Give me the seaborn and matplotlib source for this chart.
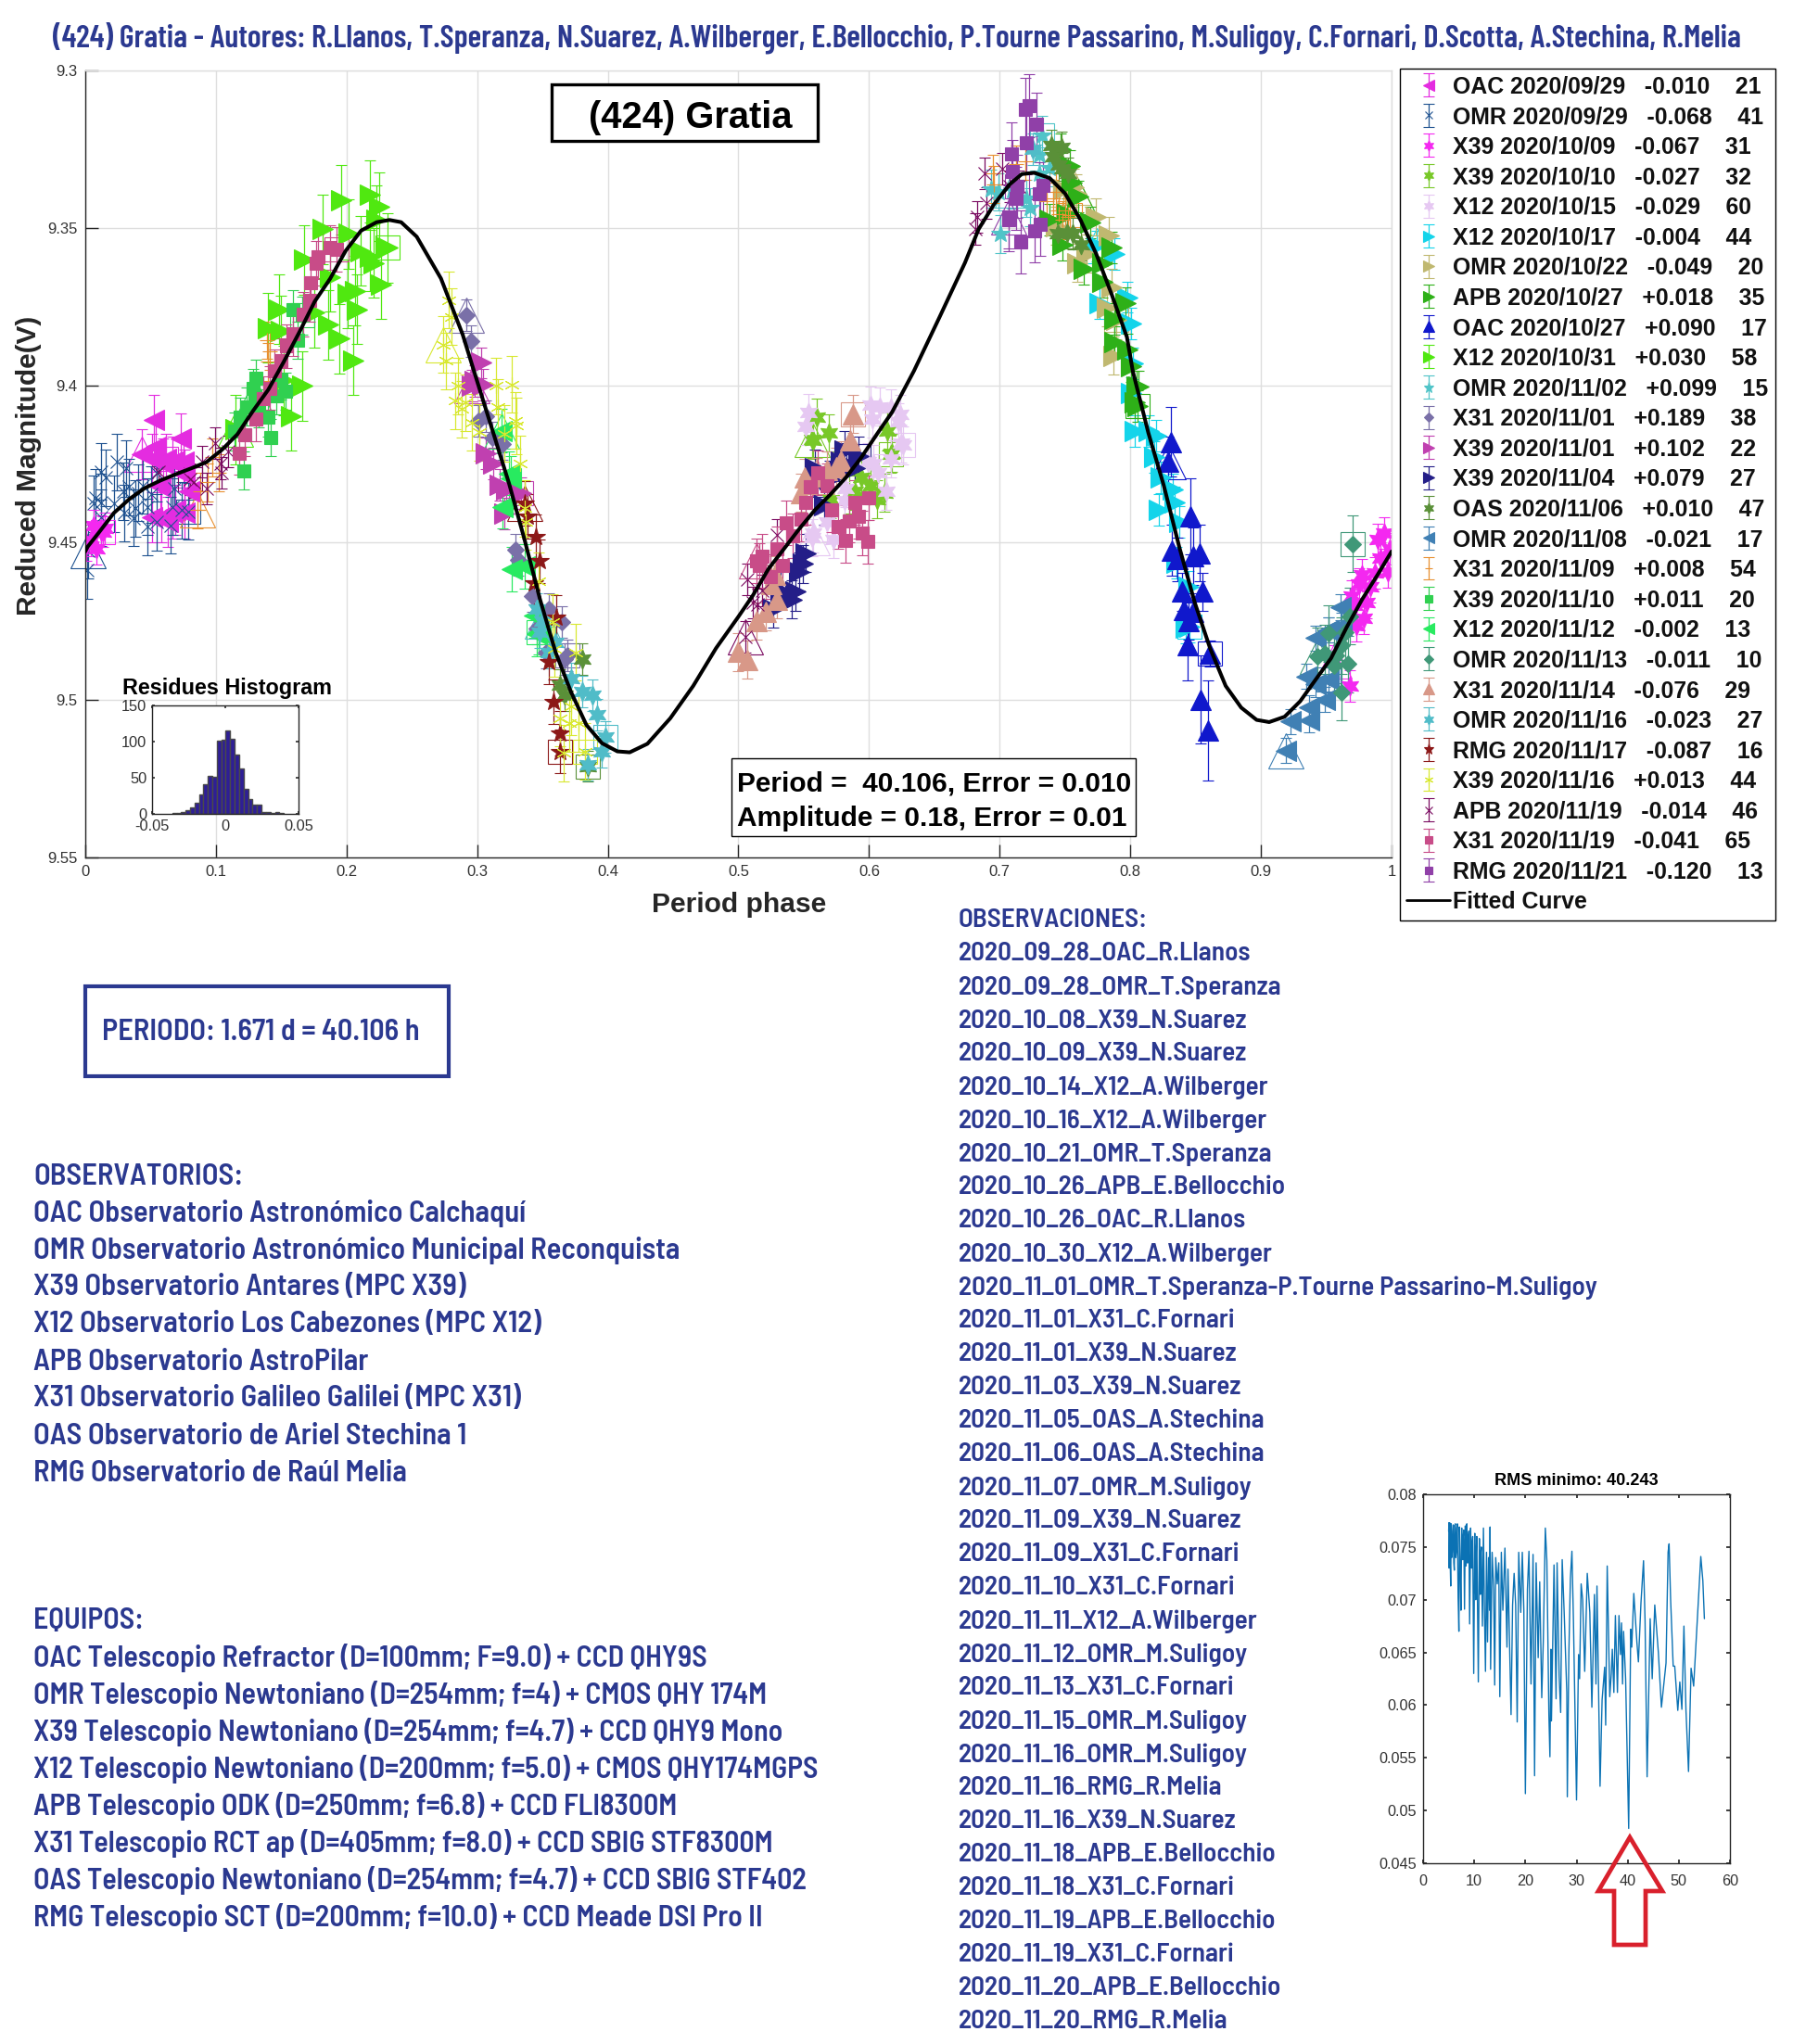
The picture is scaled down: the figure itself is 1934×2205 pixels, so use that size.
import numpy as np
import seaborn as sns
import matplotlib.pyplot as plt
from matplotlib.patches import Rectangle, Polygon
from matplotlib.lines import Line2D

W, H = 1934, 2205
BLUE = '#2b3990'

# session labels
labels = ['OAC 2020/09/29   -0.010    21', 'OMR 2020/09/29   -0.068    41', 'X39 2020/10/09   -0.067    31',
          'X39 2020/10/10   -0.027    32', 'X12 2020/10/15   -0.029    60', 'X12 2020/10/17   -0.004    44',
          'OMR 2020/10/22   -0.049    20', 'APB 2020/10/27   +0.018    35', 'OAC 2020/10/27   +0.090    17',
          'X12 2020/10/31   +0.030    58', 'OMR 2020/11/02   +0.099    15', 'X31 2020/11/01   +0.189    38',
          'X39 2020/11/01   +0.102    22', 'X39 2020/11/04   +0.079    27', 'OAS 2020/11/06   +0.010    47',
          'OMR 2020/11/08   -0.021    17', 'X31 2020/11/09   +0.008    54', 'X39 2020/11/10   +0.011    20',
          'X12 2020/11/12   -0.002    13', 'OMR 2020/11/13   -0.011    10', 'X31 2020/11/14   -0.076    29',
          'OMR 2020/11/16   -0.023    27', 'RMG 2020/11/17   -0.087    16', 'X39 2020/11/16   +0.013    44',
          'APB 2020/11/19   -0.014    46', 'X31 2020/11/19   -0.041    65', 'RMG 2020/11/21   -0.120    13']

# phase / reduced magnitude per session (first point gets the open square, last the open triangle)
p01 = [.0620, .0525, .0734, .0537, .0750, .0510, .0596, .0667, .0762, .0573, .0798, .0510, .0585, .0667, .0762, .0632, .0691, .0430]
m01 = [9.4235, 9.4110, 9.4169, 9.4195, 9.4244, 9.4234, 9.4249, 9.4244, 9.4283, 9.4323, 9.4337, 9.4420, 9.4420, 9.4406, 9.4406, 9.4435, 9.4396, 9.4220]
p02 = [.0786, .0118, .0241, .0312, .0159, .0064, .0123, .0218, .0289, .0336, .0443, .0407, .0502, .0301, .0383, .0372, .0478, .0478, .0549, .0656, .0679, .0738, .0076, .0123, .0017, .0549, .0667, .0024]
m02 = [9.4401, 9.4274, 9.4244, 9.4264, 9.4293, 9.4376, 9.4372, 9.4376, 9.4337, 9.4323, 9.4318, 9.4342, 9.4347, 9.4406, 9.4391, 9.4421, 9.4386, 9.4450, 9.4435, 9.4445, 9.4327, 9.4396, 9.4357, 9.4420, 9.4587, 9.4278, 9.4386, 9.4524]
p03 = [.0135, .0064, .0123, .0040, .0088, .0010, .0147, .9893, .9945, .9988, .9917, .9971, .9869, .9775, .9751, .9834, .9692, .9810, .9715, .9786, .9727, .9680, .9561]
m03 = [9.4465, 9.4445, 9.4464, 9.4494, 9.4519, 9.4509, 9.4455, 9.4489, 9.4470, 9.4519, 9.4548, 9.4592, 9.4597, 9.4602, 9.4631, 9.4641, 9.4671, 9.4690, 9.4700, 9.4739, 9.4764, 9.4955, 9.4876]
p04 = [.6170, .5598, .5693, .5574, .5941, .6142, .6177, .5894, .6118, .6059, .5846, .6012, .5704, .5563]
m04 = [9.4218, 9.4102, 9.4151, 9.4175, 9.4293, 9.4146, 9.4215, 9.4337, 9.4342, 9.4362, 9.4347, 9.4318, 9.4362, 9.4171]
p05 = [.6260, .5539, .6012, .6083, .6165, .6236, .6024, .6225, .6248, .6165, .6035, .6070, .6130, .5988, .5574, .5728, .5680, .5515, .5823, .5811, .5563]
m05 = [9.4190, 9.4087, 9.4063, 9.4068, 9.4073, 9.4092, 9.4107, 9.4117, 9.4185, 9.4234, 9.4249, 9.4278, 9.4337, 9.4244, 9.4470, 9.4489, 9.4435, 9.4131, 9.4327, 9.4367, 9.4484]
p06 = [.8453, .7879, .7974, .7761, .8009, .8021, .8009, .8031, .8138, .8197, .8185, .8232, .8327, .8221, .8339, .8375, .8351, .8446, .8422, .7742]
m06 = [9.4767, 9.3582, 9.3720, 9.3739, 9.3803, 9.3930, 9.4024, 9.4146, 9.4146, 9.4161, 9.4229, 9.4293, 9.4332, 9.4396, 9.4372, 9.4435, 9.4563, 9.4641, 9.4769, 9.3558]
p07 = [.7891, .7584, .7832, .7596, .7667, .7856, .7820, .7868, .7490, .7738, .7430, .7567]
m07 = [9.3793, 9.3391, 9.3524, 9.3612, 9.3582, 9.3690, 9.3754, 9.3906, 9.3376, 9.3465, 9.3494, 9.3372]
p08 = [.8055, .7537, .7466, .7548, .7383, .7478, .7643, .7785, .7856, .7690, .7785, .7962, .7879, .7879, .7974, .8009, .8045, .7513, .8031, .8066, .7600]
m08 = [9.4065, 9.3303, 9.3249, 9.3357, 9.3475, 9.3553, 9.3631, 9.3612, 9.3563, 9.3484, 9.3671, 9.3739, 9.3788, 9.3862, 9.3886, 9.3940, 9.4004, 9.3455, 9.4053, 9.4004, 9.3400]
p09 = [.8607, .8311, .8458, .8320, .8529, .8482, .8363, .8553, .8394, .8410, .8482, .8446, .8439, .8541, .8595, .8292]
m09 = [9.4852, 9.4180, 9.4416, 9.4524, 9.4533, 9.4543, 9.4553, 9.4656, 9.4656, 9.4715, 9.4720, 9.4749, 9.4827, 9.4999, 9.5097, 9.4244]
e09 = [.004, .011, .012, .008, .009, .009, .007, .006, .006, .006, .006, .006, .011, .014, .016, .008]
p10 = [.2312, .1957, .2182, .2253, .2230, .1816, .2016, .2111, .2182, .2206, .1673, .1875, .2265, .2063, .2005, .2076, .1484, .1863, .1401, .1946, .2052, .1662, .1579, .1756, .1495, .1520, .1153]
m10 = [9.3563, 9.3411, 9.3396, 9.3433, 9.3475, 9.3504, 9.3519, 9.3573, 9.3592, 9.3612, 9.3602, 9.3656, 9.3680, 9.3700, 9.3710, 9.3759, 9.3759, 9.3808, 9.3818, 9.3852, 9.3921, 9.4002, 9.4097, 9.3769, 9.3827, 9.3984, 9.4141]
p11 = [.7324, .7300, .7383, .7005, .6993, .7229, .7206, .7300, .6934, .7100]
m11 = [9.3205, 9.3269, 9.3308, 9.3519, 9.3386, 9.3435, 9.3406, 9.3327, 9.3376, 9.3380]
p12 = [.3694, .2955, .3007, .3114, .3197, .3291, .3315, .3422, .3552, .3647, .3457, .3528, .3671, .3066, .2919]
m12 = [9.4858, 9.3860, 9.4112, 9.4165, 9.4186, 9.4522, 9.4554, 9.4669, 9.4711, 9.4753, 9.4774, 9.4848, 9.4869, 9.4097, 9.3778]
p13 = [.3339, .3031, .3043, .2983, .3066, .3126, .3173, .3220, .3209, .2960]
m13 = [9.4343, 9.3929, 9.3997, 9.3986, 9.4217, 9.4249, 9.4317, 9.4330, 9.4407, 9.4002]
p14 = [.5917, .5515, .5492, .5468, .5433, .5409, .5326, .5267, .5894, .5811, .5787, .5586, .5657, .5700]
m14 = [9.4224, 9.4533, 9.4568, 9.4592, 9.4656, 9.4680, 9.4651, 9.4710, 9.4264, 9.4206, 9.4244, 9.4264, 9.4382, 9.4300]
p15 = [.3848, .7395, .7473, .7407, .7478, .7525, .7513, .7560, .7619, .7442, .3801, .3635, .3671, .7450]
m15 = [9.5210, 9.3239, 9.3244, 9.3273, 9.3313, 9.3327, 9.3514, 9.3519, 9.3553, 9.3519, 9.4869, 9.4953, 9.4984, 9.3300]
p16 = [.9514, .9224, .9367, .9371, .9490, .9347, .9419, .9514, .9419, .9514, .9609, .9620, .9193]
m16 = [9.4935, 9.5068, 9.5063, 9.5024, 9.4999, 9.4925, 9.4950, 9.4778, 9.4803, 9.4778, 9.4705, 9.4764, 9.5161]
p17 = [.7537, .1413, .1389, .1401, .1022, .0940, .0880, .0975, .6946, .6957, .7123, .7194, .7407, .7430, .7478, .7501, .7525, .7454, .7359, .0857]
m17 = [9.3460, 9.3891, 9.3857, 9.3925, 9.4278, 9.4308, 9.4337, 9.4229, 9.3327, 9.3362, 9.3298, 9.3288, 9.3406, 9.3386, 9.3475, 9.3445, 9.3465, 9.3455, 9.3416, 9.4395]
p18 = [.1662, .1591, .1626, .1306, .1283, .1531, .1496, .1188, .1401, .1235, .1141, .1418, .1212, .1460, .1330, .1302]
m18 = [9.3778, 9.3759, 9.3857, 9.3979, 9.4009, 9.4019, 9.3984, 9.4100, 9.4102, 9.4068, 9.4146, 9.4166, 9.4271, 9.4033, 9.4073, 9.4033]
p19 = [.3470, .3244, .3197, .3256, .3268, .3434, .3457, .3363, .3185]
m19 = [9.4785, 9.4280, 9.4386, 9.4296, 9.4585, 9.4732, 9.4790, 9.4575, 9.4144]
p20 = [.9699, .9680, .9514, .9644, .9490, .9668, .9561, .9620, .9573, .9620, .9430]
m20 = [9.4504, 9.4734, 9.4788, 9.4783, 9.4852, 9.4886, 9.4891, 9.4975, 9.4857, 9.4827, 9.4860]
p21 = [.5877, .5858, .5787, .5504, .5480, .5681, .5752, .5255, .5291, .5208, .5137, .4995, .5066, .5279, .5600]
m21 = [9.4092, 9.4175, 9.4239, 9.4293, 9.4342, 9.4269, 9.4259, 9.4631, 9.4680, 9.4720, 9.4749, 9.4847, 9.4872, 9.4602, 9.4290]
p22 = [.3979, .3457, .3481, .3552, .3718, .3884, .3801, .3919, .3955, .3848, .3600, .7250, .3500]
m22 = [9.5116, 9.4711, 9.4785, 9.4848, 9.4932, 9.4984, 9.4974, 9.5047, 9.5163, 9.5205, 9.4816, 9.3250, 9.4750]
p23 = [.3635, .3386, .3448, .3481, .3434, .3607, .3552, .3583, .3635, .3363]
m23 = [9.5163, 9.4417, 9.4480, 9.4559, 9.4627, 9.4737, 9.4879, 9.5005, 9.5105, 9.4375]
p24 = [.3825, .2782, .2806, .2758, .2853, .2829, .2912, .2884, .2960, .3019, .3145, .3161, .3268, .3292, .3303, .3209, .3327, .3363, .3374, .3469, .3576, .3588, .3754, .3718, .3635, .3706, .3777, .3659, .2742]
m24 = [9.5163, 9.3729, 9.3782, 9.3923, 9.4002, 9.4049, 9.4055, 9.4076, 9.4118, 9.4149, 9.4002, 9.4070, 9.3997, 9.4112, 9.4128, 9.4154, 9.4249, 9.4391, 9.4433, 9.4622, 9.4753, 9.4837, 9.4848, 9.5021, 9.5058, 9.5074, 9.5074, 9.5168, 9.3871]
p25 = [.0800, .0992, .1093, .0892, .1034, .1046, .0928, .0833, .0561, .5291, .5066, .5184, .5113, .5149, .6887, .7017, .6899, .6827, .6816, .7076, .7147, .5054]
m25 = [9.4300, 9.4185, 9.4210, 9.4244, 9.4249, 9.4278, 9.4327, 9.4308, 9.4274, 9.4475, 9.4617, 9.4651, 9.4690, 9.4695, 9.3327, 9.3313, 9.3421, 9.3465, 9.3504, 9.3367, 9.3367, 9.4800]
p26 = [.1922, .1874, .1784, .1768, .1725, .1720, .1666, .1591, .1543, .1496, .1448, .1413, .1366, .1306, .1224, .1176, .5362, .5480, .5416, .5291, .5184, .5160, .5338, .5243, .5610, .5551, .5681, .5515, .5716, .6000, .5894, .5917, .5846, .5764, .5823, .5946, .5988, .5137]
m26 = [9.3568, 9.3563, 9.3592, 9.3612, 9.3675, 9.3729, 9.3774, 9.3837, 9.3876, 9.3921, 9.3955, 9.4009, 9.4043, 9.4107, 9.4156, 9.4215, 9.4437, 9.4425, 9.4479, 9.4519, 9.4543, 9.4572, 9.4572, 9.4607, 9.4278, 9.4323, 9.4318, 9.4372, 9.4396, 9.4357, 9.4372, 9.4416, 9.4430, 9.4450, 9.4494, 9.4470, 9.4497, 9.4558]
p27 = [.7130, .7225, .7194, .7284, .7206, .7087, .7099, .7331, .7300, .7123, .7071, .7312, .7265, .7158, .7071]
m27 = [9.3367, 9.3112, 9.3124, 9.3171, 9.3231, 9.3264, 9.3322, 9.3364, 9.3391, 9.3406, 9.3475, 9.3489, 9.3509, 9.3545, 9.3465]

phases = [p01, p02, p03, p04, p05, p06, p07, p08, p09, p10, p11, p12, p13, p14, p15, p16, p17, p18, p19, p20, p21, p22, p23, p24, p25, p26, p27]
mags = [m01, m02, m03, m04, m05, m06, m07, m08, m09, m10, m11, m12, m13, m14, m15, m16, m17, m18, m19, m20, m21, m22, m23, m24, m25, m26, m27]
errs = [.008, .009, .005, .006, .006, .005, .006, .005, e09, .011, .006, .005, .005, .006, .005, .004, .006, .006, .007, .009, .006, .005, .007, .009, .005, .007, .010]

fit_phase = [.0000, .0018, .0100, .0218, .0336, .0454, .0573, .0691, .0810, .0928, .1046, .1164, .1283, .1401, .1520, .1638, .1756, .1875, .1993, .2111, .2230, .2329, .2418, .2537, .2723, .2889, .3007, .3126, .3244, .3363, .3481, .3600, .3718, .3836, .3955, .4073, .4168, .4303, .4478, .4654, .4829, .5000, .5113, .5232, .5350, .5468, .5586, .5704, .5823, .5941, .6059, .6177, .6343, .6538, .6733, .6839, .6957, .7076, .7170, .7265, .7383, .7501, .7619, .7738, .7856, .7974, .8019, .8138, .8256, .8375, .8493, .8612, .8730, .8849, .8967, .9063, .9181, .9300, .9419, .9537, .9656, .9775, .9893, 1.0000]
fit_mag = [9.4528, 9.4513, 9.4470, 9.4406, 9.4362, 9.4327, 9.4303, 9.4283, 9.4264, 9.4244, 9.4205, 9.4156, 9.4082, 9.4014, 9.3925, 9.3832, 9.3734, 9.3661, 9.3573, 9.3509, 9.3482, 9.3475, 9.3482, 9.3528, 9.3661, 9.3839, 9.3997, 9.4155, 9.4312, 9.4491, 9.4680, 9.4848, 9.4974, 9.5079, 9.5137, 9.5163, 9.5166, 9.5139, 9.5058, 9.4955, 9.4835, 9.4735, 9.4666, 9.4582, 9.4519, 9.4455, 9.4396, 9.4347, 9.4293, 9.4229, 9.4156, 9.4085, 9.3955, 9.3785, 9.3612, 9.3504, 9.3425, 9.3362, 9.3329, 9.3325, 9.3342, 9.3391, 9.3475, 9.3582, 9.3710, 9.3847, 9.3955, 9.4151, 9.4318, 9.4514, 9.4690, 9.4837, 9.4955, 9.5024, 9.5063, 9.5070, 9.5053, 9.5004, 9.4935, 9.4867, 9.4769, 9.4680, 9.4602, 9.4528]

hist_left = [-.0363, -.0332, -.0302, -.0271, -.0241, -.0210, -.0180, -.0149, -.0119, -.0088, -.0058, -.0027, .0003, .0034, .0064, .0095, .0125, .0156, .0186, .0217, .0247, .0278, .0308, .0339, .0369, .0400]
hist_count = [1, 1, 3, 5, 9, 15, 27, 41, 53, 51, 101, 102, 115, 104, 82, 63, 35, 21, 13, 13, 3, 3, 1, 2, 1]

rms_period = [5.0, 5.05, 5.1, 5.2, 5.3, 5.4, 5.5, 5.6, 5.7, 5.8, 5.9, 6.0, 6.1, 6.2, 6.3, 6.4, 6.5, 6.6, 6.7, 6.85, 7.0, 7.1, 7.25, 7.4, 7.55, 7.65, 7.75, 7.85, 7.95, 8.1, 8.25, 8.4, 8.55, 8.65, 8.75, 8.85, 8.95, 9.1, 9.3, 9.4, 9.5, 9.6, 9.7, 9.9, 10.1, 10.2, 10.3, 10.4, 10.5, 10.8, 11.0, 11.1, 11.2, 11.3, 11.4, 11.6, 11.8, 12.0, 12.2, 12.4, 12.6, 12.8, 13.0, 13.1, 13.2, 13.5, 13.8, 14.0, 14.2, 14.5, 14.8, 15.0, 15.3, 15.6, 15.8, 16.0, 16.4, 16.6, 17.2, 17.5, 17.8, 18.1, 18.4, 18.7, 19.1, 19.4, 19.7, 20.0, 20.4, 20.7, 21.1, 21.5, 21.8, 22.1, 22.5, 22.8, 23.2, 23.5, 23.9, 24.2, 24.6, 24.8, 25.0, 25.1, 25.6, 26.0, 26.2, 26.6, 26.9, 27.2, 27.6, 28.1, 28.2, 28.5, 28.8, 29.1, 29.4, 30.0, 30.4, 30.6, 30.9, 31.2, 31.6, 32.1, 32.6, 33.0, 33.5, 33.8, 34.0, 34.6, 35.0, 35.5, 35.7, 36.0, 36.5, 36.8, 37.0, 37.3, 37.6, 38.0, 38.3, 38.6, 38.8, 39.0, 39.2, 39.6, 40.2, 40.6, 40.8, 41.2, 41.8, 42.1, 42.6, 43.1, 43.4, 43.8, 44.4, 44.8, 45.3, 46.0, 46.6, 47.5, 47.9, 48.1, 48.4, 48.9, 49.2, 49.8, 50.2, 50.6, 51.0, 51.4, 51.9, 52.4, 52.9, 53.6, 54.3, 54.7, 55.0]
rms_value = [.0765, .0773, .0730, .0773, .0735, .0713, .0772, .0740, .0745, .0765, .0771, .0735, .0728, .0770, .0772, .0740, .0745, .0768, .0772, .0702, .0670, .0769, .0735, .0690, .0768, .0740, .0738, .0760, .0766, .0691, .0770, .0732, .0772, .0735, .0735, .0760, .0765, .0677, .0768, .0735, .0730, .0755, .0760, .0630, .0763, .0720, .0700, .0745, .0760, .0622, .0758, .0720, .0705, .0745, .0750, .0675, .0768, .0690, .0632, .0745, .0660, .0740, .0690, .0769, .0634, .0745, .0710, .0619, .0740, .0715, .0735, .0608, .0745, .0690, .0720, .0749, .0655, .0729, .0591, .0695, .0725, .0695, .0584, .0745, .0688, .0745, .0690, .0516, .0710, .0746, .0620, .0743, .0533, .0735, .0645, .0717, .0607, .0660, .0768, .0737, .0590, .0551, .0653, .0585, .0733, .0606, .0735, .0628, .0593, .0738, .0686, .0612, .0513, .0648, .0720, .0746, .0680, .0510, .0648, .0625, .0715, .0700, .0632, .0725, .0688, .0598, .0705, .0620, .0713, .0523, .0605, .0636, .0581, .0732, .0608, .0630, .0653, .0612, .0685, .0612, .0685, .0648, .0678, .0620, .0670, .0625, .0483, .0672, .0655, .0706, .0660, .0641, .0697, .0737, .0680, .0532, .0682, .0625, .0695, .0650, .0598, .0640, .0745, .0753, .0700, .0637, .0637, .0595, .0622, .0596, .0675, .0595, .0537, .0635, .0618, .0680, .0741, .0718, .0682]

title_text = '(424) Gratia - Autores: R.Llanos, T.Speranza, N.Suarez, A.Wilberger, E.Bellocchio, P.Tourne Passarino, M.Suligoy, C.Fornari, D.Scotta, A.Stechina, R.Melia'
observatorios = ['OBSERVATORIOS:', 'OAC Observatorio Astronómico Calchaquí', 'OMR Observatorio Astronómico Municipal Reconquista',
                 'X39 Observatorio Antares (MPC X39)', 'X12 Observatorio Los Cabezones (MPC X12)', 'APB Observatorio AstroPilar',
                 'X31 Observatorio Galileo Galilei (MPC X31)', 'OAS Observatorio de Ariel Stechina 1', 'RMG Observatorio de Raúl Melia']
equipos = ['EQUIPOS:', 'OAC Telescopio Refractor (D=100mm; F=9.0) + CCD QHY9S', 'OMR Telescopio Newtoniano (D=254mm; f=4) + CMOS QHY 174M',
           'X39 Telescopio Newtoniano (D=254mm; f=4.7) + CCD QHY9 Mono', 'X12 Telescopio Newtoniano (D=200mm; f=5.0) + CMOS QHY174MGPS',
           'APB Telescopio ODK (D=250mm; f=6.8) + CCD FLI8300M', 'X31 Telescopio RCT ap (D=405mm; f=8.0) + CCD SBIG STF8300M',
           'OAS Telescopio Newtoniano (D=254mm; f=4.7) + CCD SBIG STF402', 'RMG Telescopio SCT (D=200mm; f=10.0) + CCD Meade DSI Pro II']
observaciones = ['OBSERVACIONES:', '2020_09_28_OAC_R.Llanos', '2020_09_28_OMR_T.Speranza', '2020_10_08_X39_N.Suarez', '2020_10_09_X39_N.Suarez',
                 '2020_10_14_X12_A.Wilberger', '2020_10_16_X12_A.Wilberger', '2020_10_21_OMR_T.Speranza', '2020_10_26_APB_E.Bellocchio',
                 '2020_10_26_OAC_R.Llanos', '2020_10_30_X12_A.Wilberger', '2020_11_01_OMR_T.Speranza-P.Tourne Passarino-M.Suligoy',
                 '2020_11_01_X31_C.Fornari', '2020_11_01_X39_N.Suarez', '2020_11_03_X39_N.Suarez', '2020_11_05_OAS_A.Stechina',
                 '2020_11_06_OAS_A.Stechina', '2020_11_07_OMR_M.Suligoy', '2020_11_09_X39_N.Suarez', '2020_11_09_X31_C.Fornari',
                 '2020_11_10_X31_C.Fornari', '2020_11_11_X12_A.Wilberger', '2020_11_12_OMR_M.Suligoy', '2020_11_13_X31_C.Fornari',
                 '2020_11_15_OMR_M.Suligoy', '2020_11_16_OMR_M.Suligoy', '2020_11_16_RMG_R.Melia', '2020_11_16_X39_N.Suarez',
                 '2020_11_18_APB_E.Bellocchio', '2020_11_18_X31_C.Fornari', '2020_11_19_APB_E.Bellocchio', '2020_11_19_X31_C.Fornari',
                 '2020_11_20_APB_E.Bellocchio', '2020_11_20_RMG_R.Melia']

# styles, same order as labels
hexa = (6, 1, 0)
aster = (6, 2, 0)
colors = ['#e42ce0', '#1f5290', '#f428f0', '#78c828', '#e6c8f2', '#14d4ea', '#c0b870', '#2eb018', '#1018cc',
          '#50e810', '#50c4c8', '#7a70a8', '#c040b0', '#241e88', '#5a9038', '#4080b4', '#e89030', '#30d050',
          '#28ea60', '#409878', '#d89888', '#50bcc8', '#8c1818', '#d8e830', '#7a0a60', '#c84c88', '#9040a8']
markers = ['<', 'x', hexa, hexa, hexa, '>', '>', '>', '^', '>', '*', 'D', '>', '>', hexa, '<', '+', 's',
           '<', 'D', '^', hexa, '*', aster, 'x', 's', 's']
sizes = {'<': 15.5, '>': 15.5, '^': 15.5, 's': 10.5, 'D': 9.5, '*': 15, 'x': 10, '+': 11, hexa: 15, aster: 12}

sns.set_theme(style='whitegrid')
ARIAL = ['Liberation Sans', 'DejaVu Sans']
COND = ['Barlow Condensed', 'Liberation Sans', 'DejaVu Sans']
SEMI = ['Barlow Semi Condensed', 'Liberation Sans', 'DejaVu Sans']
plt.rcParams['font.family'] = ARIAL

fig = plt.figure(figsize=(W / 100, H / 100), dpi=100, facecolor='white')


def px_axes(left, top, right, bottom):
    return fig.add_axes([left / W, 1 - bottom / H, (right - left) / W, (bottom - top) / H])


def px_text(x, y, s, **kw):
    kw.setdefault('va', 'center')
    return fig.text(x / W, 1 - y / H, s, **kw)


def px_rect(left, top, right, bottom, **kw):
    fig.add_artist(Rectangle((left / W, 1 - bottom / H), (right - left) / W, (bottom - top) / H,
                             transform=fig.transFigure, facecolor=kw.pop('facecolor', 'white'), **kw))


# main phase plot
ax = px_axes(92, 76, 1501, 925)
ax.set_xlim(0, 1)
ax.set_ylim(9.55, 9.3)
ax.set_xticks(np.arange(0, 1.01, 0.1))
ax.set_xticklabels(['0', '0.1', '0.2', '0.3', '0.4', '0.5', '0.6', '0.7', '0.8', '0.9', '1'])
ax.set_yticks([9.3, 9.35, 9.4, 9.45, 9.5, 9.55])
ax.set_yticklabels(['9.3', '9.35', '9.4', '9.45', '9.5', '9.55'])
ax.grid(True, color='#dedede', lw=1)
ax.set_axisbelow(True)
ax.tick_params(axis='both', direction='in', length=10, width=1, color='#262626', labelsize=12,
               labelcolor='#333333', pad=6, left=True, bottom=True)
for side in ['top', 'right']:
    ax.spines[side].set_color('#dedede')
    ax.spines[side].set_linewidth(1)
for side in ['left', 'bottom']:
    ax.spines[side].set_color('#262626')
    ax.spines[side].set_linewidth(1)

handles = []
for ph, mg, er, col, mk in zip(phases, mags, errs, colors, markers):
    cont = ax.errorbar(ph, mg, yerr=er, ls='none', marker=mk, ms=sizes[mk], color=col, mfc=col, mec=col, mew=0.8,
                       ecolor=col, elinewidth=0.9, capsize=4.2, capthick=0.9, zorder=2)
    ax.plot(ph[0], mg[0], ls='none', marker='s', ms=18.5, mfc='none', mec=col, mew=0.8, zorder=2, clip_on=False)
    ax.plot(ph[-1], mg[-1], ls='none', marker='^', ms=27, mfc='none', mec=col, mew=0.8, zorder=2, clip_on=False)
    handles.append(cont)

sns.lineplot(x=fit_phase, y=fit_mag, ax=ax, color='black', lw=2.9, sort=False, errorbar=None, zorder=4)
ax.set_xlim(0, 1)
ax.set_ylim(9.55, 9.3)
fit_handle = Line2D([], [], color='black', lw=2)

ax.set_xlabel('')
ax.set_ylabel('')
px_text(797, 976, 'Period phase', fontsize=21.6, fontweight='bold', color='#262626', ha='center')
px_text(31, 502, 'Reduced Magnitude(V)', fontsize=21.5, fontweight='bold', color='#262626', ha='center', rotation=90)

leg = ax.legend(handles + [fit_handle], labels + ['Fitted Curve'], loc='upper left',
                bbox_to_anchor=(1510 / W, 1 - 74 / H), bbox_transform=fig.transFigure, borderaxespad=0,
                prop={'family': ARIAL, 'weight': 'bold', 'size': 17.95}, markerscale=0.55, handlelength=1.85,
                handletextpad=0.15, borderpad=0.3, labelspacing=0.344, frameon=True, fancybox=False,
                edgecolor='black', framealpha=1, facecolor='white')
leg.get_frame().set_linewidth(1)
for t in leg.get_texts():
    t.set_color('#111111')

# boxes over the plot
px_rect(595, 91, 882, 152, edgecolor='black', lw=2.4, zorder=6)
px_text(635, 127, '(424) Gratia', fontsize=28.7, fontweight='bold', color='black', zorder=7)
px_rect(789, 818, 1225, 902, edgecolor='black', lw=1, zorder=6)
px_text(795, 845, 'Period =  40.106, Error = 0.010', fontsize=21.5, fontweight='bold', color='black', zorder=7)
px_text(795, 883, 'Amplitude = 0.18, Error = 0.01', fontsize=21.5, fontweight='bold', color='black', zorder=7)

# residues histogram
ax_h = px_axes(164, 761, 322, 878)
ax_h.set_facecolor('white')
sns.histplot(x=hist_left[:-1], weights=hist_count, bins=hist_left, ax=ax_h, color='#2e1e96', edgecolor='#4a4a4a',
             linewidth=1, alpha=1)
ax_h.set_xlim(-0.05, 0.05)
ax_h.set_ylim(0, 150)
ax_h.set_xticks([-0.05, 0, 0.05])
ax_h.set_xticklabels(['-0.05', '0', '0.05'])
ax_h.set_yticks([0, 50, 100, 150])
ax_h.set_xlabel('')
ax_h.set_ylabel('')
ax_h.grid(False)
ax_h.tick_params(direction='in', length=2, labelsize=11.8, labelcolor='#333333', pad=4, top=True, right=True,
                 left=True, bottom=True, color='#333333')
for s in ax_h.spines.values():
    s.set_color('#262626')
    s.set_linewidth(1)
px_text(132, 743, 'Residues Histogram', fontsize=16.8, fontweight='bold', color='black')

# header and text blocks
px_text(967, 41, title_text, fontsize=24.6, fontweight=600, color=BLUE, ha='center', family=COND)

px_rect(92, 1064, 484, 1161, edgecolor=BLUE, lw=3)
px_text(110, 1113, 'PERIODO: 1.671 d = 40.106 h', fontsize=23.3, fontweight=600, color=BLUE, family=SEMI)
for i, s in enumerate(observatorios):
    px_text(36, 1269 + 40 * i, s, fontsize=23.4, fontweight=600, color=BLUE, family=SEMI)
for i, s in enumerate(equipos):
    px_text(36, 1749 + 40 * i, s, fontsize=23, fontweight=600, color=BLUE, family=SEMI)
for i, s in enumerate(observaciones):
    px_text(1034, 993 + 36 * i, s, fontsize=21, fontweight=600, color=BLUE, family=SEMI)

# rms periodogram
ax_r = px_axes(1535, 1612, 1866, 2010)
sns.lineplot(x=rms_period, y=rms_value, ax=ax_r, color='#0b72b4', lw=1, sort=False, errorbar=None)
ax_r.set_xlim(0, 60)
ax_r.set_ylim(0.045, 0.08)
ax_r.set_xticks(range(0, 61, 10))
ax_r.set_yticks([0.045, 0.05, 0.055, 0.06, 0.065, 0.07, 0.075, 0.08])
ax_r.set_yticklabels(['0.045', '0.05', '0.055', '0.06', '0.065', '0.07', '0.075', '0.08'])
ax_r.set_xlabel('')
ax_r.set_ylabel('')
ax_r.grid(False)
ax_r.tick_params(direction='in', length=3, labelsize=11.7, labelcolor='#333333', pad=5, top=True, right=True,
                 left=True, bottom=True, color='#262626')
ax_r.tick_params(axis='x', pad=9)
for s in ax_r.spines.values():
    s.set_color('#262626')
    s.set_linewidth(1)
px_text(1700, 1598, 'RMS minimo: 40.243', fontsize=13.1, fontweight='bold', color='black', ha='center')

arrow_px = [(1758, 1982), (1724, 2040), (1741, 2040), (1741, 2098), (1775, 2098), (1775, 2040), (1793, 2040)]
fig.add_artist(Polygon([(x / W, 1 - y / H) for x, y in arrow_px], closed=True, transform=fig.transFigure,
                       facecolor='none', edgecolor='#d9202c', lw=3.4, joinstyle='miter'))

fig.savefig('out.png', dpi=100, facecolor='white')
